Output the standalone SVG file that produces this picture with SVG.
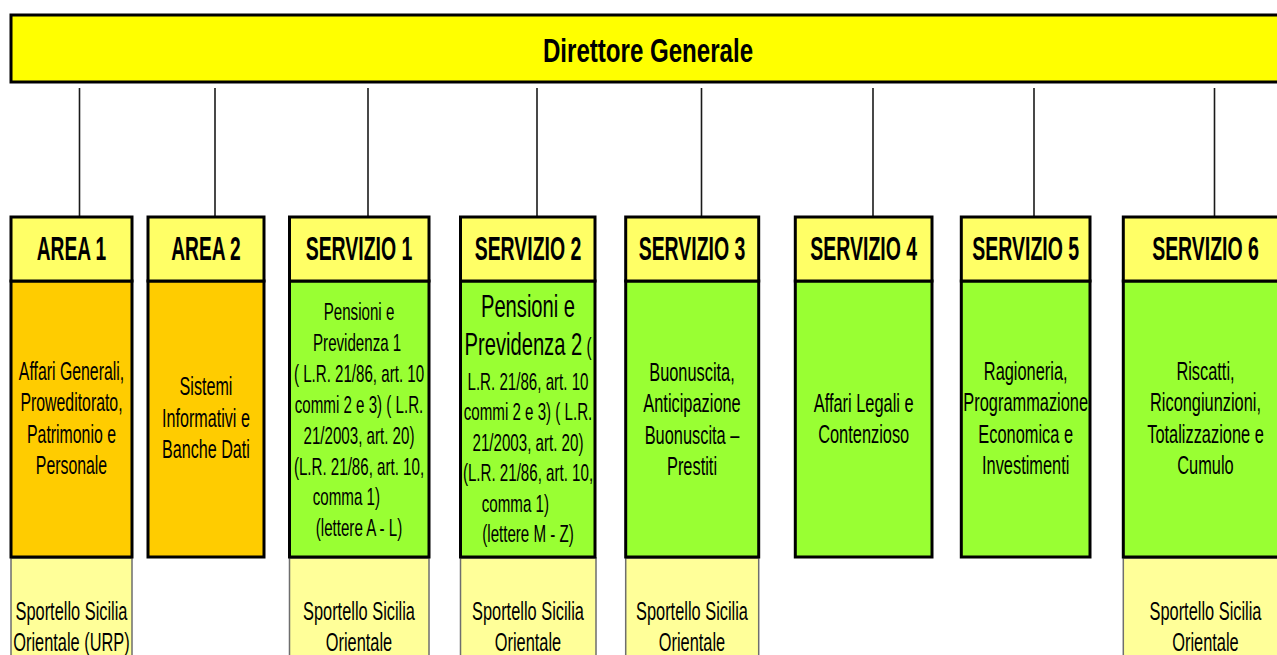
<svg xmlns="http://www.w3.org/2000/svg" width="1277" height="655" viewBox="0 0 1277 655">
<style>
.hd{fill:#FFFF66;stroke:#000;stroke-width:3}
.ar{fill:#FFCC00;stroke:#000;stroke-width:3}
.sv{fill:#99FF33;stroke:#000;stroke-width:3}
.bt{fill:#FFFF99;stroke:#6e6e6e;stroke-width:1.5}
.top{fill:#FFFF00;stroke:#000;stroke-width:3}
.cn line{stroke:#1a1a1a;stroke-width:1.6}
text{font-family:"Liberation Sans",Arial,sans-serif;fill:#000;text-anchor:middle}
.h{font-size:33px;font-weight:bold}
.t{font-size:26px}
.s{font-size:24px}
.L{font-size:32px}
</style>
<rect width="1277" height="655" fill="#fff"/>
<g id="direttore">
<rect class="top" x="11" y="15" width="1290" height="67"/>
<text class="h" transform="translate(648 0) scale(0.73 1)" x="0" y="62">Direttore Generale</text>
</g>
<g id="connectors" class="cn">
<line x1="79.5" y1="88" x2="79.5" y2="216"/>
<line x1="215" y1="88" x2="215" y2="216"/>
<line x1="368" y1="88" x2="368" y2="216"/>
<line x1="537" y1="88" x2="537" y2="216"/>
<line x1="701.5" y1="88" x2="701.5" y2="216"/>
<line x1="873" y1="88" x2="873" y2="216"/>
<line x1="1034" y1="88" x2="1034" y2="216"/>
<line x1="1214.5" y1="88" x2="1214.5" y2="216"/>
</g>
<g id="area1">
<rect class="bt" x="11" y="558" width="121" height="110"/>
<rect class="ar" x="11" y="281" width="121" height="276"/>
<rect class="hd" x="11" y="217" width="121" height="64"/>
<text class="h" transform="translate(71.5 0) scale(0.58 1)" x="0" y="260">AREA 1</text>
<text class="t" transform="translate(71.5 0) scale(0.61 1)"><tspan x="0" y="380">Affari Generali,</tspan><tspan x="0" y="411.5">Proweditorato,</tspan><tspan x="0" y="443">Patrimonio e</tspan><tspan x="0" y="474.5">Personale</tspan></text>
<text class="t" transform="translate(71.5 0) scale(0.63 1)"><tspan x="0" y="620">Sportello Sicilia</tspan><tspan x="0" y="651">Orientale (URP)</tspan></text>
</g>
<g id="area2">
<rect class="ar" x="148" y="281" width="116" height="276"/>
<rect class="hd" x="148" y="217" width="116" height="64"/>
<text class="h" transform="translate(206 0) scale(0.58 1)" x="0" y="260">AREA 2</text>
<text class="t" transform="translate(206 0) scale(0.62 1)"><tspan x="0" y="395">Sistemi</tspan><tspan x="0" y="427">Informativi e</tspan><tspan x="0" y="458">Banche Dati</tspan></text>
</g>
<g id="servizio1">
<rect class="bt" x="289.5" y="558" width="139.5" height="110"/>
<rect class="sv" x="289.5" y="281" width="139.5" height="276"/>
<rect class="hd" x="289.5" y="217" width="139.5" height="64"/>
<text class="h" transform="translate(359 0) scale(0.59 1)" x="0" y="260">SERVIZIO 1</text>
<text class="s" transform="translate(359 0) scale(0.63 1)"><tspan x="0" y="320">Pensioni e</tspan><tspan x="-3" y="351">Previdenza 1</tspan><tspan x="0" y="382">( L.R. 21/86, art. 10</tspan><tspan x="0" y="413">commi 2 e 3) ( L.R.</tspan><tspan x="0" y="444">21/2003, art. 20)</tspan><tspan x="0" y="475">(L.R. 21/86, art. 10,</tspan><tspan x="-20" y="505">comma 1)</tspan><tspan x="0" y="536">(lettere A - L)</tspan></text>
<text class="t" transform="translate(359 0) scale(0.63 1)"><tspan x="0" y="620">Sportello Sicilia</tspan><tspan x="0" y="651">Orientale</tspan></text>
</g>
<g id="servizio2">
<rect class="bt" x="460.5" y="558" width="135.5" height="110"/>
<rect class="sv" x="460.5" y="281" width="134.5" height="276"/>
<rect class="hd" x="460.5" y="217" width="134.5" height="64"/>
<text class="h" transform="translate(528 0) scale(0.59 1)" x="0" y="260">SERVIZIO 2</text>
<text class="s" transform="translate(528 0) scale(0.63 1)"><tspan class="L" x="0" y="317">Pensioni e</tspan><tspan x="0" y="355"><tspan class="L">Previdenza 2</tspan> (</tspan><tspan x="0" y="390">L.R. 21/86, art. 10</tspan><tspan x="0" y="420">commi 2 e 3) ( L.R.</tspan><tspan x="0" y="451">21/2003, art. 20)</tspan><tspan x="0" y="481">(L.R. 21/86, art. 10,</tspan><tspan x="-20" y="512">comma 1)</tspan><tspan x="0" y="542">(lettere M - Z)</tspan></text>
<text class="t" transform="translate(528 0) scale(0.63 1)"><tspan x="0" y="620">Sportello Sicilia</tspan><tspan x="0" y="651">Orientale</tspan></text>
</g>
<g id="servizio3">
<rect class="bt" x="625.7" y="558" width="133" height="110"/>
<rect class="sv" x="625.7" y="281" width="133" height="276"/>
<rect class="hd" x="625.7" y="217" width="133" height="64"/>
<text class="h" transform="translate(692 0) scale(0.59 1)" x="0" y="260">SERVIZIO 3</text>
<text class="t" transform="translate(692 0) scale(0.63 1)"><tspan x="0" y="381">Buonuscita,</tspan><tspan x="0" y="412">Anticipazione</tspan><tspan x="0" y="444">Buonuscita –</tspan><tspan x="0" y="475">Prestiti</tspan></text>
<text class="t" transform="translate(692 0) scale(0.63 1)"><tspan x="0" y="620">Sportello Sicilia</tspan><tspan x="0" y="651">Orientale</tspan></text>
</g>
<g id="servizio4">
<rect class="sv" x="795.3" y="281" width="136.7" height="276"/>
<rect class="hd" x="795.3" y="217" width="136.7" height="64"/>
<text class="h" transform="translate(863.7 0) scale(0.59 1)" x="0" y="260">SERVIZIO 4</text>
<text class="t" transform="translate(863.7 0) scale(0.63 1)"><tspan x="0" y="412">Affari Legali e</tspan><tspan x="0" y="443">Contenzioso</tspan></text>
</g>
<g id="servizio5">
<rect class="sv" x="961.3" y="281" width="128.7" height="276"/>
<rect class="hd" x="961.3" y="217" width="128.7" height="64"/>
<text class="h" transform="translate(1025.7 0) scale(0.59 1)" x="0" y="260">SERVIZIO 5</text>
<text class="t" transform="translate(1025.7 0) scale(0.63 1)"><tspan x="0" y="380">Ragioneria,</tspan><tspan x="0" y="411">Programmazione</tspan><tspan x="0" y="443">Economica e</tspan><tspan x="0" y="474">Investimenti</tspan></text>
</g>
<g id="servizio6">
<rect class="bt" x="1123.3" y="558" width="165" height="110"/>
<rect class="sv" x="1123.3" y="281" width="165" height="276"/>
<rect class="hd" x="1123.3" y="217" width="165" height="64"/>
<text class="h" transform="translate(1205.5 0) scale(0.59 1)" x="0" y="260">SERVIZIO 6</text>
<text class="t" transform="translate(1205.5 0) scale(0.63 1)"><tspan x="0" y="380">Riscatti,</tspan><tspan x="0" y="411">Ricongiunzioni,</tspan><tspan x="0" y="443">Totalizzazione e</tspan><tspan x="0" y="474">Cumulo</tspan></text>
<text class="t" transform="translate(1205.5 0) scale(0.63 1)"><tspan x="0" y="620">Sportello Sicilia</tspan><tspan x="0" y="651">Orientale</tspan></text>
</g>
</svg>
